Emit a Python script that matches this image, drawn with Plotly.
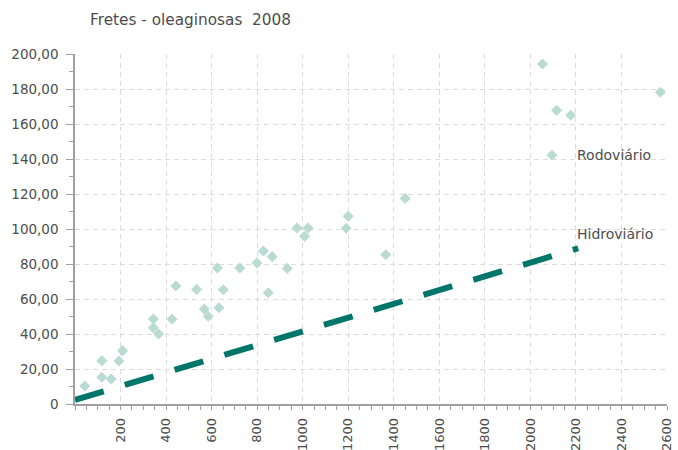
import plotly.graph_objects as go

# Rodoviário (road freight) observations: distance (km) vs freight (R$/t)
rodo_x = [43, 118, 118, 159, 193, 209, 344, 344, 367, 426, 443, 534, 568, 585,
          625, 632, 651, 724, 799, 827, 849, 866, 932, 975, 1008, 1024, 1191,
          1200, 1365, 1450, 2053, 2095, 2115, 2177, 2571]
rodo_y = [10.3, 24.7, 15.3, 14.3, 24.6, 30.5, 48.6, 43.6, 40.0, 48.4, 67.4,
          65.5, 54.3, 50.1, 77.7, 55.0, 65.3, 77.7, 80.6, 87.4, 63.6, 84.2,
          77.5, 100.6, 95.8, 100.6, 100.4, 107.3, 85.3, 117.5, 194.3, 142.1,
          167.8, 165.0, 178.1]

# Hidroviário (waterway) trend
hidro_x = [0, 2210]
hidro_y = [2.3, 89.0]

y_ticks = [0, 20, 40, 60, 80, 100, 120, 140, 160, 180, 200]
y_labels = ["0", "20,00", "40,00", "60,00", "80,00", "100,00", "120,00",
            "140,00", "160,00", "180,00", "200,00"]
x_ticks = [200, 400, 600, 800, 1000, 1200, 1400, 1600, 1800, 2000, 2200, 2400, 2600]
x_labels = [str(v) for v in x_ticks]

title_text = "Fretes - oleaginosas  2008"
FONT = "DejaVu Sans"
TXT = "#4d4d4d"

fig = go.Figure()
fig.add_trace(go.Scatter(
    x=rodo_x, y=rodo_y, mode="markers",
    marker=dict(symbol="diamond", size=8.5, color="#b9dbd4", line=dict(width=0)),
    name="Rodoviário", showlegend=False, cliponaxis=False,
))
fig.add_trace(go.Scatter(
    x=hidro_x, y=hidro_y, mode="lines",
    line=dict(color="#00766a", width=6, dash="30px,22px"),
    name="Hidroviário", showlegend=False,
))

fig.add_annotation(x=2095, y=142.1, xref="x", yref="y", text="Rodoviário",
                   showarrow=False, xanchor="left", yanchor="middle", xshift=23,
                   font=dict(family=FONT, size=14, color=TXT))
fig.add_annotation(x=2210, y=97, xref="x", yref="y", text="Hidroviário",
                   showarrow=False, xanchor="left", yanchor="middle", xshift=-3,
                   font=dict(family=FONT, size=14, color=TXT))

grid = dict(showgrid=True, gridcolor="#dcdcdc", gridwidth=1, griddash="5px,4px")

fig.update_layout(
    width=678, height=450,
    margin=dict(l=75, r=11, t=54, b=46),
    paper_bgcolor="white", plot_bgcolor="white",
    font=dict(family=FONT, size=14, color=TXT),
    title=dict(text=title_text, xref="container", yref="container",
               x=90 / 678, xanchor="left", y=1 - 20 / 450, yanchor="middle",
               font=dict(family=FONT, size=15.3, color=TXT)),
    xaxis=dict(range=[0, 2600], tickvals=x_ticks, ticktext=x_labels,
               tickangle=-90, ticks="outside", ticklen=4, tickcolor="#a0a0a0",
               showline=True, linecolor="#a0a0a0", linewidth=1.5, zeroline=False,
               automargin=False, ticklabelstandoff=3,
               minor=dict(dtick=50, ticks="outside", ticklen=4, tickcolor="#a0a0a0",
                          showgrid=False),
               tickfont=dict(family=FONT, size=13, color=TXT), **grid),
    yaxis=dict(range=[0, 200], tickvals=y_ticks, ticktext=y_labels,
               ticks="outside", ticklen=7, tickcolor="#a0a0a0",
               showline=True, linecolor="#a0a0a0", linewidth=1.5, zeroline=False,
               automargin=False, ticklabelstandoff=5,
               minor=dict(dtick=10, ticks="outside", ticklen=4, tickcolor="#a0a0a0",
                          showgrid=False),
               tickfont=dict(family=FONT, size=13.5, color=TXT), **grid),
)

fig.write_html("out.html", config={"displayModeBar": False},
               post_script="document.body.style.margin='0';document.body.style.overflow='hidden';")
